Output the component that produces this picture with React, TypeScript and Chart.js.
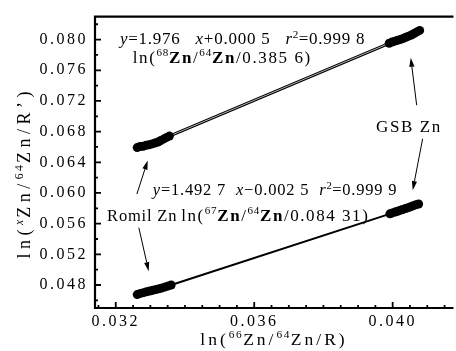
import React, { useEffect, useRef } from 'react';
import { Chart, registerables } from 'chart.js';

Chart.register(...registerables);

// Axis ranges and labelled ticks (the right edge of the plot runs to the canvas edge)
const X_RANGE = [0.0314, 0.0417];
const Y_RANGE = [0.045, 0.083];
const X_TICKS = [0.032, 0.036, 0.04];
const Y_TICKS = [0.048, 0.052, 0.056, 0.06, 0.064, 0.068, 0.072, 0.076, 0.08];
const X_MINOR_STEP = 0.0005;
const Y_MINOR_STEP = 0.002;

// ln(68Zn/64Zn/0.385 6) against ln(66Zn/64Zn/R): Romil Zn run, then GSB Zn run
const ZN68_X = [
  0.03262, 0.0327, 0.03279, 0.03288, 0.03296, 0.03305, 0.03313, 0.03322, 0.0333, 0.03339, 0.03347, 0.03355,
  0.0399, 0.03998, 0.04006, 0.04014, 0.04022, 0.0403, 0.04038, 0.04046, 0.04054, 0.04062, 0.0407, 0.04078,
];
const ZN68_Y = [
  0.06592, 0.06605, 0.0661, 0.06622, 0.06628, 0.0664, 0.06652, 0.06665, 0.06685, 0.06705, 0.06725, 0.06742,
  0.07952, 0.07968, 0.0798, 0.0799, 0.08, 0.08015, 0.0803, 0.08045, 0.0806, 0.0808, 0.081, 0.0812,
];

// ln(67Zn/64Zn/0.084 31) against ln(66Zn/64Zn/R)
const ZN67_X = [
  0.03262, 0.03271, 0.0328, 0.03289, 0.03298, 0.03307, 0.03316, 0.03325, 0.03334, 0.03343, 0.03352, 0.0336,
  0.03992, 0.03999, 0.04007, 0.04014, 0.04022, 0.04029, 0.04037, 0.04044, 0.04052, 0.04059, 0.04067, 0.04075,
];
const ZN67_Y = [
  0.04675, 0.0469, 0.047, 0.04712, 0.04722, 0.0473, 0.0474, 0.0475, 0.04762, 0.04775, 0.04788, 0.048,
  0.05728, 0.0574, 0.05752, 0.05762, 0.05775, 0.05785, 0.05797, 0.05808, 0.0582, 0.05832, 0.05845, 0.05856,
];

// Rich text: [text, flags] where i = italic, b = bold, s = superscript
type Seg = [string, string];

const EQ_68: Seg[] = [['y', 'i'], ['=1.976   ', ''], ['x', 'i'], ['+0.000 5   ', ''], ['r', 'i'], ['2', 's'], ['=0.999 8', '']];
const EQ_68_NAME: Seg[] = [['ln(', ''], ['68', 's'], ['Zn', 'b'], ['/', ''], ['64', 's'], ['Zn', 'b'], ['/0.385 6)', '']];
const EQ_67: Seg[] = [['y', 'i'], ['=1.492 7  ', ''], ['x', 'i'], ['\u22120.002 5  ', ''], ['r', 'i'], ['2', 's'], ['=0.999 9', '']];
const EQ_67_NAME: Seg[] = [['ln(', ''], ['67', 's'], ['Zn', 'b'], ['/', ''], ['64', 's'], ['Zn', 'b'], ['/0.084 31)', '']];
const X_TITLE: Seg[] = [['ln(', ''], ['66', 's'], ['Zn', ''], ['/', ''], ['64', 's'], ['Zn', ''], ['/R)', '']];
const Y_TITLE: Seg[] = [['ln(', ''], ['x', 'si'], ['Zn', ''], ['/', ''], ['64', 's'], ['Zn', ''], ['/R\u2019)', '']];

// Text placed in data coordinates (left edge, baseline), with font size and letter spacing
const TEXTS: { x: number; y: number; segs: Seg[]; size: number; spacing: number }[] = [
  { x: 0.03212, y: 0.07943, segs: EQ_68, size: 17, spacing: 0.75 },
  { x: 0.03249, y: 0.07698, segs: EQ_68_NAME, size: 17, spacing: 1.6 },
  { x: 0.03307, y: 0.05972, segs: EQ_67, size: 16.5, spacing: 0.8 },
  { x: 0.03389, y: 0.05637, segs: EQ_67_NAME, size: 17, spacing: 1.55 },
  { x: 0.03175, y: 0.05637, segs: [['Romil Zn', '']], size: 16.5, spacing: 0.8 },
  { x: 0.03952, y: 0.06797, segs: [['GSB Zn', '']], size: 17, spacing: 1.6 },
];

// Arrows from the sample names to their point groups: [x0, y0, x1, y1], head at (x1, y1)
const ARROWS: number[][] = [
  [0.040694, 0.071445, 0.040523, 0.077628],
  [0.040866, 0.067065, 0.04058, 0.060367],
  [0.032609, 0.059852, 0.032923, 0.064231],
  [0.032666, 0.055472, 0.032951, 0.049804],
];

const FONT = '"Liberation Serif", "Times New Roman", serif';
const CANVAS_W = 456;
const CANVAS_H = 351;

function segFont(flags: string, size: number) {
  const sup = flags.includes('s');
  const fs = sup ? size * 0.65 : size;
  return `${flags.includes('i') ? 'italic ' : ''}${flags.includes('b') ? 'bold ' : ''}${fs}px ${FONT}`;
}

function walkRich(
  ctx: CanvasRenderingContext2D,
  segs: Seg[],
  x: number,
  y: number,
  size: number,
  spacing: number,
  draw: boolean,
) {
  let cx = x;
  for (const [text, flags] of segs) {
    const sup = flags.includes('s');
    ctx.font = segFont(flags, size);
    const dy = sup ? -size * 0.38 : 0;
    const sp = sup ? spacing * 0.5 : spacing;
    for (const ch of text) {
      if (draw) ctx.fillText(ch, cx, y + dy);
      cx += ctx.measureText(ch).width + sp;
    }
  }
  return cx - x;
}

function zipPoints(xs: number[], ys: number[]) {
  return xs.map((x, i) => ({ x, y: ys[i] }));
}

function minorValues(range: number[], step: number) {
  const out: number[] = [];
  const start = Math.ceil(range[0] / step - 1e-6);
  const end = Math.floor(range[1] / step + 1e-6);
  for (let k = start; k <= end; k++) out.push(+(k * step).toFixed(6));
  return out;
}

const decorPlugin = {
  id: 'decor',
  beforeDraw(chart: any) {
    chart.ctx.letterSpacing = '2.5px';
  },
  beforeDatasetsDraw(chart: any) {
    chart.ctx.letterSpacing = '0px';
  },
  afterDatasetsDraw(chart: any) {
    const ctx: CanvasRenderingContext2D = chart.ctx;
    const { left, right, top, bottom } = chart.chartArea;
    const xs = chart.scales.x;
    const ys = chart.scales.y;
    ctx.save();
    ctx.letterSpacing = '0px';
    ctx.strokeStyle = '#000';
    ctx.fillStyle = '#000';

    // frame: left, top and bottom (the right side lies past the canvas edge)
    ctx.lineWidth = 2.2;
    ctx.beginPath();
    ctx.moveTo(right + 2, top);
    ctx.lineTo(left, top);
    ctx.lineTo(left, bottom);
    ctx.lineTo(right + 2, bottom);
    ctx.stroke();

    // inward ticks on left and bottom
    const isMajor = (v: number, list: number[]) => list.some((t) => Math.abs(t - v) < 1e-7);
    ctx.lineWidth = 1.8;
    ctx.beginPath();
    for (const v of minorValues(Y_RANGE, Y_MINOR_STEP)) {
      const py = ys.getPixelForValue(v);
      if (py <= top + 2 || py >= bottom - 2) continue;
      const len = isMajor(v, Y_TICKS) ? 6 : 3;
      ctx.moveTo(left, py);
      ctx.lineTo(left + len, py);
    }
    for (const v of minorValues(X_RANGE, X_MINOR_STEP)) {
      const px = xs.getPixelForValue(v);
      if (px <= left + 2 || px >= right - 2) continue;
      const len = isMajor(v, X_TICKS) ? 6 : 3;
      ctx.moveTo(px, bottom);
      ctx.lineTo(px, bottom - len);
    }
    ctx.stroke();

    // annotations
    ctx.textBaseline = 'alphabetic';
    ctx.textAlign = 'left';
    for (const t of TEXTS) {
      walkRich(ctx, t.segs, xs.getPixelForValue(t.x), ys.getPixelForValue(t.y), t.size, t.spacing, true);
    }

    ctx.lineWidth = 1;
    for (const [x0, y0, x1, y1] of ARROWS) {
      const ax = xs.getPixelForValue(x0);
      const ay = ys.getPixelForValue(y0);
      const bx = xs.getPixelForValue(x1);
      const by = ys.getPixelForValue(y1);
      const ang = Math.atan2(by - ay, bx - ax);
      const hl = 9;
      const hw = 2.6;
      const baseX = bx - hl * Math.cos(ang);
      const baseY = by - hl * Math.sin(ang);
      ctx.beginPath();
      ctx.moveTo(ax, ay);
      ctx.lineTo(baseX, baseY);
      ctx.stroke();
      ctx.beginPath();
      ctx.moveTo(bx, by);
      ctx.lineTo(baseX + hw * Math.sin(ang), baseY - hw * Math.cos(ang));
      ctx.lineTo(baseX - hw * Math.sin(ang), baseY + hw * Math.cos(ang));
      ctx.closePath();
      ctx.fill();
    }

    // axis titles
    const xw = walkRich(ctx, X_TITLE, 0, 0, 17.5, 3, false);
    walkRich(ctx, X_TITLE, 274 - xw / 2, bottom + 37, 17.5, 3, true);

    const yw = walkRich(ctx, Y_TITLE, 0, 0, 18, 4.5, false);
    ctx.translate(30, (top + bottom) / 2 + 10.5);
    ctx.rotate(-Math.PI / 2);
    walkRich(ctx, Y_TITLE, -yw / 2, 0, 18, 4.5, true);
    ctx.restore();
  },
};

export default function App() {
  const canvasRef = useRef<HTMLCanvasElement | null>(null);

  useEffect(() => {
    const canvas = canvasRef.current;
    if (!canvas) return;

    const pts68 = zipPoints(ZN68_X, ZN68_Y);
    const pts67 = zipPoints(ZN67_X, ZN67_Y);

    const chart = new Chart(canvas, {
      type: 'scatter',
      data: {
        datasets: [
          {
            label: '68Zn',
            data: pts68,
            backgroundColor: '#000',
            borderWidth: 0,
            pointRadius: 4.5,
            order: 0,
          },
          {
            label: '67Zn',
            data: pts67,
            backgroundColor: '#000',
            borderWidth: 0,
            pointRadius: 4.5,
            order: 0,
          },
          {
            label: '68Zn line core',
            data: pts68,
            showLine: true,
            borderColor: '#b4b4b4',
            borderWidth: 1,
            pointRadius: 0,
            order: 1,
          },
          {
            label: '68Zn line',
            data: pts68,
            showLine: true,
            borderColor: '#000',
            borderWidth: 3,
            pointRadius: 0,
            order: 2,
          },
          {
            label: '67Zn line',
            data: pts67,
            showLine: true,
            borderColor: '#000',
            borderWidth: 2,
            pointRadius: 0,
            order: 2,
          },
        ],
      },
      options: {
        animation: false,
        responsive: false,
        devicePixelRatio: 1,
        layout: { padding: { left: 0, right: 0, top: 13, bottom: 0 } },
        plugins: {
          legend: { display: false },
          tooltip: { enabled: false },
          title: { display: false },
        },
        scales: {
          x: {
            type: 'linear',
            min: X_RANGE[0],
            max: X_RANGE[1],
            grid: { display: false, drawTicks: false },
            border: { display: false },
            afterBuildTicks: (scale: any) => {
              scale.ticks = X_TICKS.map((value) => ({ value }));
            },
            afterFit: (scale: any) => {
              scale.height = 43;
              scale.paddingLeft = 0;
              scale.paddingRight = 0;
            },
            ticks: {
              padding: 4,
              maxRotation: 0,
              autoSkip: false,
              color: '#000',
              font: { family: FONT, size: 16 },
              callback: (v: any) => Number(v).toFixed(3),
            },
          },
          y: {
            type: 'linear',
            min: Y_RANGE[0],
            max: Y_RANGE[1],
            grid: { display: false, drawTicks: false },
            border: { display: false },
            afterBuildTicks: (scale: any) => {
              scale.ticks = Y_TICKS.map((value) => ({ value }));
            },
            afterFit: (scale: any) => {
              scale.width = 95;
            },
            ticks: {
              padding: 7,
              autoSkip: false,
              color: '#000',
              font: { family: FONT, size: 16 },
              callback: (v: any) => Number(v).toFixed(3),
            },
          },
        },
      },
      plugins: [decorPlugin],
    });

    return () => chart.destroy();
  }, []);

  return (
    <div
      style={{
        position: 'fixed',
        left: 0,
        top: 0,
        width: CANVAS_W,
        height: CANVAS_H,
        overflow: 'hidden',
        background: '#fff',
      }}
    >
      <canvas
        ref={canvasRef}
        width={CANVAS_W}
        height={CANVAS_H}
        style={{ display: 'block', width: CANVAS_W, height: CANVAS_H }}
      />
    </div>
  );
}
